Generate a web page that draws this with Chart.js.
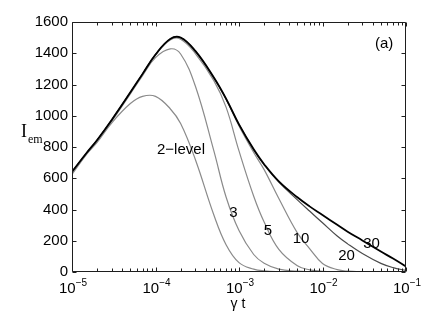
<!DOCTYPE html>
<html><head><meta charset="utf-8">
<script src="https://cdn.jsdelivr.net/npm/chart.js@4/dist/chart.umd.min.js"></script>
<style>html,body{margin:0;padding:0;background:#fff}#wrap{width:436px;height:319px}canvas{display:block}</style>
</head><body><div id="wrap"><canvas id="c" width="436" height="319"></canvas></div>
<script>
// ---- data ----
const times   = [1e-5, 1.5e-5, 2e-5, 3e-5, 5e-5, 7e-5, 1e-4, 1.5e-4, 2e-4, 3e-4, 5e-4, 7e-4, 1e-3, 1.5e-3, 2e-3, 3e-3, 5e-3, 7e-3, 1e-2, 1.5e-2, 2e-2, 3e-2, 5e-2, 7e-2, 1e-1];
const level2  = [625, 755, 830, 955, 1078, 1124, 1124, 1045, 950, 720, 365, 175, 60, 18, 7, 2, 0, 0, 0, 0, 0, 0, 0, 0, 0];
const level3  = [632, 758, 838, 965, 1140, 1257, 1372, 1428, 1395, 1190, 775, 480, 265, 112, 56, 18, 5, 1, 0, 0, 0, 0, 0, 0, 0];
const level5  = [636, 760, 842, 972, 1147, 1265, 1388, 1485, 1490, 1398, 1225, 1055, 775, 485, 320, 145, 40, 14, 4, 1, 0, 0, 0, 0, 0];
const level10 = [638, 761, 843, 973, 1148, 1266, 1390, 1488, 1497, 1410, 1240, 1104, 935, 765, 655, 470, 250, 150, 55, 15, 5, 1, 0, 0, 0];
const level20 = [640, 762, 844, 974, 1149, 1267, 1391, 1490, 1499, 1413, 1243, 1108, 943, 782, 686, 575, 462, 390, 315, 230, 180, 118, 55, 28, 10];
const level30 = [642, 763, 845, 975, 1150, 1268, 1392, 1492, 1501, 1415, 1245, 1110, 945, 785, 690, 580, 478, 420, 365, 302, 258, 202, 131, 86, 35];
const seriesNames = ['2−level', '3', '5', '10', '20', '30'];
const yTicks = [0, 200, 400, 600, 800, 1000, 1200, 1400, 1600];
const xTicks = [1e-5, 1e-4, 1e-3, 1e-2, 1e-1];
const xTickBase = ['10', '10', '10', '10', '10'];
const xTickExp = ['−5', '−4', '−3', '−2', '−1'];
const xTitle = 'γ t';
const yTitleMain = 'I';
const yTitleSub = 'em';
const panelTag = '(a)';
// curve annotations, anchored in data coordinates
const curveLabelText = ['2−level', '3', '5', '10', '20', '30'];
const curveLabelT    = [2.02e-4, 8.6e-4, 2.22e-3, 5.53e-3, 1.94e-2, 3.86e-2];
const curveLabelV    = [781, 381, 262, 211, 102, 179];

// ---- chart ----
const seriesData = [level2, level3, level5, level10, level20, level30];
const colors = ['#8a8a8a', '#8a8a8a', '#8a8a8a', '#8a8a8a', '#4a4a4a', '#000000'];
const widths = [1.2, 1.2, 1.2, 1.2, 1.2, 1.8];

const datasets = seriesData.map((arr, i) => ({
  label: seriesNames[i],
  data: times.map((t, j) => ({x: t, y: arr[j]})),
  borderColor: colors[i],
  borderWidth: widths[i],
  pointRadius: 0,
  fill: false,
  tension: 0.4,
  order: seriesData.length - 1 - i
}));

const SANS = '"Liberation Sans", Arial, Helvetica, sans-serif';
const SERIF = '"Liberation Serif", "Times New Roman", serif';

const decor = {
  id: 'decor',
  afterDraw(chart) {
    const ctx = chart.ctx, a = chart.chartArea;
    const xs = chart.scales.x, ys = chart.scales.y;
    ctx.save();
    ctx.strokeStyle = '#1e1e1e';
    ctx.lineWidth = 1;
    const L = Math.round(a.left) + 0.5, R = Math.round(a.right) - 0.5;
    const T = Math.round(a.top) + 0.5, B = Math.round(a.bottom) - 0.5;
    ctx.beginPath();
    ctx.rect(L, T, R - L, B - T);
    ctx.stroke();
    ctx.beginPath();
    yTicks.forEach(v => {
      const y = Math.round(ys.getPixelForValue(v)) + 0.5;
      ctx.moveTo(L, y); ctx.lineTo(L + 4, y);
      ctx.moveTo(R, y); ctx.lineTo(R - 4, y);
    });
    for (let e = -5; e <= -1; e++) {
      for (let m = 1; m <= 9; m++) {
        const v = m * Math.pow(10, e);
        if (v > 0.1 * 1.0001) break;
        const x = Math.round(xs.getPixelForValue(v)) + 0.5;
        const len = m === 1 ? 4 : 3;
        ctx.moveTo(x, B); ctx.lineTo(x, B - len);
        ctx.moveTo(x, T); ctx.lineTo(x, T + len);
      }
    }
    ctx.stroke();
    ctx.fillStyle = '#000';
    ctx.textBaseline = 'alphabetic';
    ctx.textAlign = 'left';
    xTicks.forEach((v, i) => {
      const x = xs.getPixelForValue(v);
      ctx.font = '15px ' + SANS;
      const w1 = ctx.measureText(xTickBase[i]).width;
      ctx.font = '10px ' + SANS;
      const w2 = ctx.measureText(xTickExp[i]).width;
      const x0 = x - (w1 + w2) / 2 + 1;
      ctx.font = '15px ' + SANS;
      ctx.fillText(xTickBase[i], x0, 293);
      ctx.font = '10px ' + SANS;
      ctx.fillText(xTickExp[i], x0 + w1, 285.5);
    });
    ctx.font = '14px ' + SANS;
    ctx.textAlign = 'center';
    ctx.fillText(xTitle, (a.left + a.right) / 2 - 1, 308);
    ctx.textAlign = 'left';
    ctx.font = '18px ' + SERIF;
    ctx.fillText(yTitleMain, 21, 137);
    ctx.font = '12px ' + SERIF;
    ctx.fillText(yTitleSub, 28, 143);
    ctx.font = '15px ' + SANS;
    ctx.textAlign = 'center';
    ctx.textBaseline = 'middle';
    curveLabelText.forEach((s, i) => {
      ctx.fillText(s, xs.getPixelForValue(curveLabelT[i]), ys.getPixelForValue(curveLabelV[i]));
    });
    ctx.fillText(panelTag, xs.getPixelForValue(5.46e-2), ys.getPixelForValue(1462));
    ctx.restore();
  }
};

new Chart(document.getElementById('c'), {
  type: 'line',
  data: {datasets},
  options: {
    responsive: false,
    animation: false,
    devicePixelRatio: 1,
    layout: {padding: {top: 22, right: 30, left: 0, bottom: 0}},
    plugins: {legend: {display: false}, tooltip: {enabled: false}},
    scales: {
      x: {
        type: 'logarithmic',
        min: 1e-5, max: 1e-1,
        grid: {display: false, drawTicks: false},
        border: {display: false},
        ticks: {display: false},
        afterBuildTicks: s => { s.ticks = xTicks.map(v => ({value: v})); },
        afterFit: s => { s.height = 47; }
      },
      y: {
        min: 0, max: 1600,
        grid: {display: false, drawTicks: false},
        border: {display: false},
        ticks: {
          color: '#000',
          padding: 4,
          font: {family: SANS, size: 15},
          callback: v => String(v)
        },
        afterBuildTicks: s => { s.ticks = yTicks.map(v => ({value: v})); },
        afterFit: s => { s.width = 72; }
      }
    }
  },
  plugins: [decor]
});
</script>
</body></html>
